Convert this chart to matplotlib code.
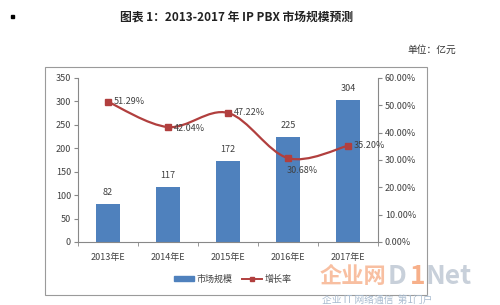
import matplotlib
matplotlib.use('Agg')
import matplotlib.pyplot as plt
from matplotlib.path import Path
from matplotlib.patches import PathPatch, Rectangle
from matplotlib.lines import Line2D
from matplotlib.ticker import MultipleLocator, FuncFormatter

plt.rcParams['font.family'] = ['Noto Sans CJK SC', 'DejaVu Sans']

years = ['2013年E', '2014年E', '2015年E', '2016年E', '2017年E']
market = [82, 117, 172, 225, 304]
growth = [51.29, 42.04, 47.22, 30.68, 35.20]
growth_labels = ['51.29%', '42.04%', '47.22%', '30.68%', '35.20%']

bar_col = '#4F81BD'
line_col = '#B13F3E'
txt_col = '#404040'

fig = plt.figure(figsize=(5, 3.05), dpi=100)

# chart outer frame
fig.patches.append(Rectangle((0.09, 0.033), 0.764, 0.747, transform=fig.transFigure,
                             fill=False, edgecolor='#9a9a9a', lw=0.8))

ax = fig.add_axes([0.156, 0.2066, 0.6, 0.5377])
x = list(range(len(years)))
ax.bar(x, market, width=0.4, color=bar_col, zorder=2)
for xi, v in zip(x, market):
    ax.annotate(str(v), (xi, v), xytext=(0, 5), textcoords='offset points',
                ha='center', va='bottom', fontsize=6.5, color=txt_col)

ax.set_xlim(-0.5, 4.5)
ax.set_ylim(0, 350)
ax.yaxis.set_major_locator(MultipleLocator(50))
ax.set_xticks(x)
ax.set_xticklabels(years)
ax.set_xticks([i - 0.5 for i in range(6)], minor=True)
ax.tick_params(axis='x', which='major', length=0, pad=8, labelsize=6.5, labelcolor=txt_col)
ax.tick_params(axis='x', which='minor', length=3, color='#888888', direction='out')
ax.tick_params(axis='y', length=3, color='#888888', labelsize=6.5, labelcolor=txt_col, pad=2)
for s in ['top', 'right']:
    ax.spines[s].set_visible(False)
ax.spines['left'].set_color('#888888')
ax.spines['bottom'].set_color('#888888')

ax2 = ax.twinx()
ax2.set_ylim(0, 60)
ax2.yaxis.set_major_locator(MultipleLocator(10))
ax2.yaxis.set_major_formatter(FuncFormatter(lambda v, p: '%.2f%%' % v))
ax2.tick_params(axis='y', length=3, color='#888888', labelsize=6.5, labelcolor=txt_col, pad=2)
for s in ['top', 'left', 'bottom']:
    ax2.spines[s].set_visible(False)
ax2.spines['right'].set_color('#888888')

# smoothed line (catmull-rom style bezier through the points)
pts = list(zip(x, growth))
verts = [pts[0]]
codes = [Path.MOVETO]
n = len(pts)
for i in range(n - 1):
    p0 = pts[i - 1] if i > 0 else pts[i]
    p1 = pts[i]
    p2 = pts[i + 1]
    p3 = pts[i + 2] if i + 2 < n else pts[i + 1]
    c1 = (p1[0] + (p2[0] - p0[0]) / 6, p1[1] + (p2[1] - p0[1]) / 6)
    c2 = (p2[0] - (p3[0] - p1[0]) / 6, p2[1] - (p3[1] - p1[1]) / 6)
    verts += [c1, c2, p2]
    codes += [Path.CURVE4] * 3
ax2.add_patch(PathPatch(Path(verts, codes), fill=False, edgecolor=line_col, lw=1.6, zorder=3))
ax2.plot(x, growth, ls='none', marker='s', ms=4, color=line_col, zorder=4)

offsets = [(4, 0, 'left', 'center'), (4, -1, 'left', 'center'), (4, 0, 'left', 'center'),
           (-1, -6, 'left', 'top'), (4, 0, 'left', 'center')]
for xi, v, lab, (dx, dy, ha, va) in zip(x, growth, growth_labels, offsets):
    ax2.annotate(lab, (xi, v), xytext=(dx, dy), textcoords='offset points',
                 ha=ha, va=va, fontsize=6.5, color=txt_col, zorder=5)

# legend
handles = [Rectangle((0, 0), 1, 1, color=bar_col),
           Line2D([], [], color=line_col, marker='s', ms=3, lw=1.4)]
fig.legend(handles, ['市场规模', '增长率'], loc='center', bbox_to_anchor=(0.466, 0.085),
           ncol=2, frameon=False, fontsize=6.5, handlelength=2.2, handleheight=0.5,
           columnspacing=1.0, handletextpad=0.3, labelcolor=txt_col)

# titles
fig.text(0.474, 0.945, '图表 1：2013-2017 年 IP PBX 市场规模预测', ha='center', va='center',
         fontsize=8.5, fontweight='bold', color='#222222')
fig.text(0.912, 0.835, '单位：亿元', ha='right', va='center', fontsize=7, color='#333333')
fig.patches.append(Rectangle((0.022, 0.942), 0.006, 0.01, transform=fig.transFigure,
                             color='black'))

# watermark logo
fig.text(0.64, 0.095, '企业网', fontsize=16, fontweight='bold', color='#F7B08A',
         alpha=0.8, ha='left', va='center')
fig.text(0.776, 0.095, 'D', fontsize=19, fontweight='bold', color='#C8D0DA',
         ha='left', va='center')
fig.text(0.82, 0.095, '1', fontsize=19, fontweight='bold', color='#F7B08A',
         ha='left', va='center')
fig.text(0.852, 0.095, 'Net', fontsize=19, fontweight='bold', color='#C8D0DA',
         ha='left', va='center')
fig.text(0.645, 0.018, '企业 IT 网络通信  第1门户', fontsize=7, color='#A9BCD0',
         ha='left', va='center')

fig.savefig('out.png', dpi=100)
